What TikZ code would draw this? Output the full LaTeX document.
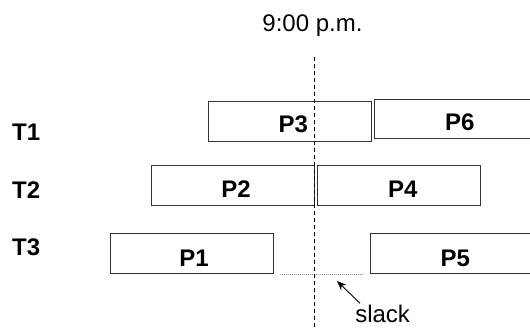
\documentclass[tikz,border=0pt]{standalone}
\usepackage{fontspec}
\setmainfont{Liberation Sans}
\usetikzlibrary{arrows.meta,calc}
\begin{document}
\begin{tikzpicture}[x=1pt,y=-1pt,
  task/.style={draw=black!80, line width=0.9pt, fill=white, inner sep=0pt,
    minimum width=163pt, minimum height=39.5pt},
  tasklabel/.style={font=\fontsize{24}{24}\selectfont\bfseries, anchor=base, inner sep=0pt},
  thread/.style={font=\fontsize{24}{24}\selectfont\bfseries, anchor=base west, inner sep=0pt},
  note/.style={font=\fontsize{24}{24}\selectfont, anchor=base, inner sep=0pt},
  cutoff/.style={line width=0.8pt, dash pattern=on 4pt off 3pt},
  gap/.style={draw=black!45, line width=0.7pt, dash pattern=on 1pt off 1pt},
  pointer/.style={line width=0.9pt, -{Stealth[length=9.5pt,width=7.5pt]}}]
\useasboundingbox (0,0) rectangle (530,327);
\clip (0,0) rectangle (530,327);

% thread names
\node[thread] (t1) at (12,140.7) {T1};
\node[thread] (t2) at (12,198.3) {T2};
\node[thread] (t3) at (12,255) {T3};

% tasks on each thread
\node[task] (p3) at (289.8,121.35) {};
\node[task] (p6) at (456.2,119) {};
\node[task] (p2) at (232.65,185.5) {};
\node[task] (p4) at (399.2,185.5) {};
\node[task] (p1) at (191.65,253.65) {};
\node[task] (p5) at (451.8,253.65) {};

\node[tasklabel] (lp3) at ($(p3.center)+(3.5,11.5)$) {P3};
\node[tasklabel] (lp6) at ($(p6.center)+(3.5,11.5)$) {P6};
\node[tasklabel] (lp2) at ($(p2.center)+(3.5,12)$) {P2};
\node[tasklabel] (lp4) at ($(p4.center)+(3.5,12)$) {P4};
\node[tasklabel] (lp1) at ($(p1.center)+(2.5,13)$) {P1};
\node[tasklabel] (lp5) at ($(p5.center)+(3.5,13)$) {P5};

% idle time on T3
\coordinate (gapstart) at ($(p1.south east)+(6,0)$);
\coordinate (gapend) at ($(p5.south west)+(-8,0)$);
\draw[gap] (gapstart) -- (gapend);

% the 9:00 p.m. cut
\node[note] (time) at (312.5,31.7) {9:00 p.m.};
\coordinate (cuttop) at (314.4,57);
\coordinate (cutbot) at (314.4,330);
\draw[cutoff] (cuttop) -- (cutbot);

% slack annotation
\node[note] (slack) at (382.6,322.5) {slack};
\coordinate (slacktail) at (360,303.3);
\coordinate (slacktip) at (337,281);
\draw[pointer] (slacktail) -- (slacktip);
\end{tikzpicture}
\end{document}
